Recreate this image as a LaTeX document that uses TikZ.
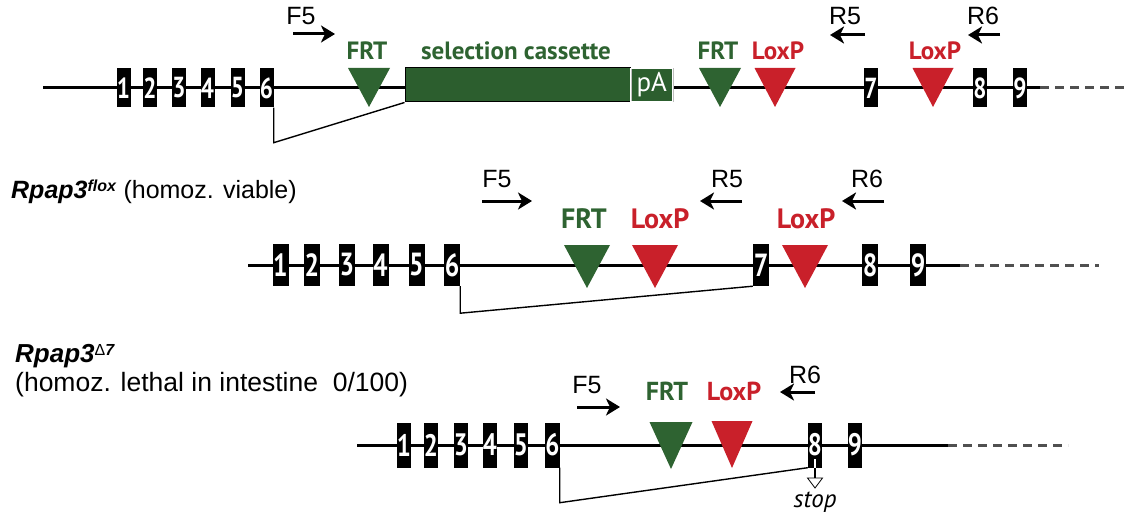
\documentclass[tikz,border=0pt]{standalone}
\usepackage{fontspec}
\setmainfont{Liberation Sans}
\newfontfamily\myriad{PT Sans}
\newfontfamily\exonfont{PT Sans}[FakeStretch=0.8]
\usetikzlibrary{arrows.meta, positioning}
\definecolor{CasGreen} {HTML}{2C5E2E}
\definecolor{FrtGreen} {HTML}{2E6331}
\definecolor{LoxRed}   {HTML}{C9202A}
\definecolor{TailGray} {HTML}{505050}
\tikzset{
  gene/.style={line width=3pt, color=black},
  tail/.style={line width=3pt, color=TailGray, dash pattern=on 9pt off 6pt},
  splice/.style={line width=1.4pt, color=black},
  exon/.style={
    fill=black, inner sep=0pt, text=white,
    minimum width=14pt, minimum height=39pt,
    font=\exonfont\bfseries\fontsize{29}{29}\selectfont,
  },
  exonflox/.style ={exon, minimum width=16pt, minimum height=42pt,
                    font=\exonfont\bfseries\fontsize{32}{32}\selectfont},
  exondel/.style  ={exon, minimum width=14pt, minimum height=45pt,
                    font=\exonfont\bfseries\fontsize{31}{31}\selectfont},
  cassette/.style={
    fill=CasGreen, draw=black, line width=1pt, inner sep=0pt,
    minimum width=225pt, minimum height=34pt,
  },
  pabox/.style={
    fill=CasGreen, draw=black!25, double=white, double distance=1pt,
    line width=0.4pt, inner sep=0pt, text=white,
    minimum width=42pt, minimum height=33pt,
    font=\myriad\fontsize{27}{27}\selectfont,
  },
  primer/.style={
    -{Stealth[length=14pt,width=17pt,inset=4pt]}, line width=3pt,
  },
  prim/.style={anchor=base, inner sep=0pt, font=\fontsize{25}{25}\selectfont},
  sitelbl/.style={anchor=base, inner sep=0pt,
                  font=\myriad\bfseries\fontsize{25}{25}\selectfont},
  frtlbl/.style={sitelbl, text=FrtGreen},
  loxlbl/.style={sitelbl, text=LoxRed},
  gtype/.style={anchor=base west, inner sep=0pt, font=\fontsize{25}{25}\selectfont},
}
% recombination site: name, apex, width, height, colour
\newcommand{\recsite}[5]{%
  \coordinate (#1) at (#2);
  \fill[#5] (#1) -- ++(-#3/2,-#4) -- ++(#3,0) -- cycle;}
\newcommand{\gsym}{\textbf{\textit{Rpap3}}}
\newcommand{\gsup}[1]{\raisebox{7pt}{\fontsize{16}{16}\selectfont#1}}

\begin{document}
\begin{tikzpicture}[x=1pt, y=-1pt]
\useasboundingbox (0,0) rectangle (1131,516);

% ── Row 1: targeted allele ────────────────────────────────────────────────
\coordinate (Tstart) at (43,88);
\coordinate (Tsolid) at (1040,88);
\coordinate (Tend)   at (1128,88);
\draw[gene] (Tstart) -- (Tsolid);
\draw[tail] (Tsolid) -- (Tend);

\node[cassette] (CAS) at (517.5,85) {};
\node[pabox, right=0pt of CAS] (PA) {pA};

\foreach \n/\x in {1/123.5, 2/150, 3/179, 4/207.5, 5/237.5, 6/266.5, 7/871, 8/980, 9/1020}
  \node[exon] (T\n) at (\x,88) {\n};

\draw[splice] (T6.south east) -- ++(0,35) -- (CAS.south west);

\recsite{TfrtA}{369,107}{42}{39}{FrtGreen}
\recsite{TfrtB}{720,107}{42}{39}{FrtGreen}
\recsite{TloxA}{775,107}{41}{39}{LoxRed}
\recsite{TloxB}{933,107}{41}{39}{LoxRed}

\node[frtlbl] (TfrtAl) at (367,60) {FRT};
\node[frtlbl] (TcasL)  at (516,60) {selection cassette};
\node[frtlbl] (TfrtBl) at (718,60) {FRT};
\node[loxlbl] (TloxAl) at (778,60) {LoxP};
\node[loxlbl] (TloxBl) at (935,60) {LoxP};

% primers
\node[prim] (TF5) at (301,25) {F5};
\node[prim] (TR5) at (845,25) {R5};
\node[prim] (TR6) at (983,25) {R6};
\coordinate (TF5a) at (293,34);  \coordinate (TF5b) at (335,34);
\coordinate (TR5a) at (865,35);  \coordinate (TR5b) at (830,35);
\coordinate (TR6a) at (1000,35); \coordinate (TR6b) at (968,35);
\draw[primer] (TF5a) -- (TF5b);
\draw[primer] (TR5a) -- (TR5b);
\draw[primer] (TR6a) -- (TR6b);

% ── Row 2: flox allele ────────────────────────────────────────────────────
\node[gtype] (Lflox) at (11,198)
  {\gsym\gsup{\textbf{\textit{flox}}} (homoz. viable)};

\coordinate (Fstart) at (248,265);
\coordinate (Fsolid) at (960,265);
\coordinate (Fend)   at (1099,265);
\draw[gene] (Fstart) -- (Fsolid);
\draw[tail] (Fsolid) -- (Fend);

\foreach \n/\x in {1/280.5, 2/312, 3/347, 4/380.5, 5/416.5, 6/452, 7/761, 8/870, 9/918}
  \node[exonflox] (F\n) at (\x,265) {\n};

\draw[splice] (F6.south east) -- ++(0,27) -- (F7.south west);

\recsite{FfrtA}{587,288}{46}{43}{FrtGreen}
\recsite{FloxA}{655,288}{46}{43}{LoxRed}
\recsite{FloxB}{805,288}{46}{43}{LoxRed}

\node[frtlbl, font=\myriad\bfseries\fontsize{28}{28}\selectfont] (FfrtAl) at (584,228) {FRT};
\node[loxlbl, font=\myriad\bfseries\fontsize{28}{28}\selectfont] (FloxAl) at (660,228) {LoxP};
\node[loxlbl, font=\myriad\bfseries\fontsize{28}{28}\selectfont] (FloxBl) at (806,228) {LoxP};

\node[prim] (FF5) at (497,187) {F5};
\node[prim] (FR5) at (727,187) {R5};
\node[prim] (FR6) at (867,187) {R6};
\coordinate (FF5a) at (482,201); \coordinate (FF5b) at (532,201);
\coordinate (FR5a) at (742,201); \coordinate (FR5b) at (700,201);
\coordinate (FR6a) at (884,201); \coordinate (FR6b) at (842,201);
\draw[primer] (FF5a) -- (FF5b);
\draw[primer] (FR5a) -- (FR5b);
\draw[primer] (FR6a) -- (FR6b);

% ── Row 3: exon 7 deleted ─────────────────────────────────────────────────
\node[gtype, font=\fontsize{26}{26}\selectfont] (Ldel) at (15,362)
  {\gsym\gsup{\textmd{\upshape Δ}\textbf{\textit{7}}}};
\node[gtype, font=\fontsize{26.5}{26.5}\selectfont] (LdelB) at (15,391)
  {(homoz. lethal in intestine~~0/100)};

\coordinate (Dstart) at (357,445);
\coordinate (Dsolid) at (948,445);
\coordinate (Dend)   at (1068,445);
\draw[gene] (Dstart) -- (Dsolid);
\draw[tail] (Dsolid) -- (Dend);

\foreach \n/\x in {1/404, 2/431, 3/461, 4/490, 5/521, 6/552.5, 8/815, 9/855}
  \node[exondel] (D\n) at (\x,445) {\n};

\draw[splice] (D6.south east) -- ++(0,35) -- (D8.south west);

\recsite{DfrtA}{671,469}{43}{47}{FrtGreen}
\recsite{DloxA}{732,468}{41}{47}{LoxRed}

\node[frtlbl, font=\myriad\bfseries\fontsize{26}{26}\selectfont] (DfrtAl) at (667,400) {FRT};
\node[loxlbl, font=\myriad\bfseries\fontsize{26}{26}\selectfont] (DloxAl) at (734,400) {LoxP};

\node[prim] (DF5) at (587,393) {F5};
\node[prim] (DR6) at (805,383) {R6};
\coordinate (DF5a) at (577,407); \coordinate (DF5b) at (620,407);
\coordinate (DR6a) at (815,392); \coordinate (DR6b) at (780,392);
\draw[primer] (DF5a) -- (DF5b);
\draw[primer] (DR6a) -- (DR6b);

% stop codon in exon 8
\coordinate (Dstop) at (815,478);
\draw[white, line width=1.4pt] (815,459) -- (D8.south);
\draw[splice] (D8.south) -- (Dstop);
\draw[line width=0.8pt, fill=white] (Dstop) ++(-7.5,0) -- ++(15,0) -- ++(-7.5,10) -- cycle;
\node[prim, font=\myriad\itshape\fontsize{25}{25}\selectfont] (DstopL) at (815,507) {stop};

\end{tikzpicture}
\end{document}
